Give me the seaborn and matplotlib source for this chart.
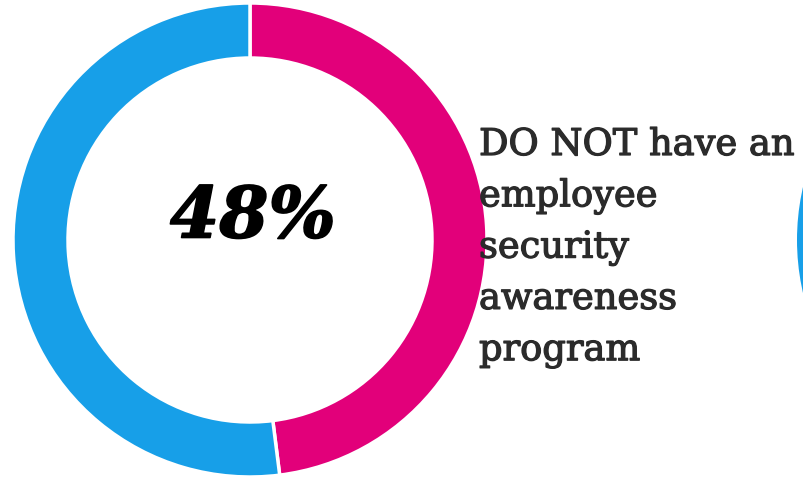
import matplotlib.pyplot as plt
import matplotlib.patheffects as pe
import seaborn as sns

# Dados do gráfico
labels = ["Não têm programa", "Têm programa"]
values = [48, 52]
colors = ["#e2007a", "#179fe8"]
center_label = "48%"
caption_lines = ["DO NOT have an", "employee", "security", "awareness", "program"]

sns.set_theme(style="white")

W, H = 804, 479
fig = plt.figure(figsize=(W / 100, H / 100), dpi=100)
ax = fig.add_axes([0, 0, 1, 1])

# Donut principal
ax.pie(values, colors=colors, center=(250, 239), radius=237,
       startangle=90, counterclock=False, frame=True,
       wedgeprops=dict(width=55, edgecolor="white", linewidth=2.5))

# Começo do próximo donut, cortado na borda direita
ax.pie([1], colors=[colors[1]], center=(1034, 239), radius=237,
       frame=True, wedgeprops=dict(width=55, edgecolor="white", linewidth=0))

ax.set_xlim(0, W)
ax.set_ylim(0, H)
ax.set_aspect("equal")
ax.axis("off")

# Percentual no centro
ax.text(253, 261, center_label, ha="center", va="center", fontsize=51,
        fontweight="bold", fontstyle="italic", family="DejaVu Serif", color="black",
        path_effects=[pe.withStroke(linewidth=1.2, foreground="black")])

# Texto ao lado (traço leve para engrossar um pouco a fonte)
for i, line in enumerate(caption_lines):
    ax.text(479, H - 155 - i * 51.3, line, ha="left", va="baseline",
            fontsize=26.5, family="DejaVu Serif", color="#2b2b2b",
            path_effects=[pe.withStroke(linewidth=0.9, foreground="#2b2b2b")])

fig.savefig("out.png", dpi=100)
